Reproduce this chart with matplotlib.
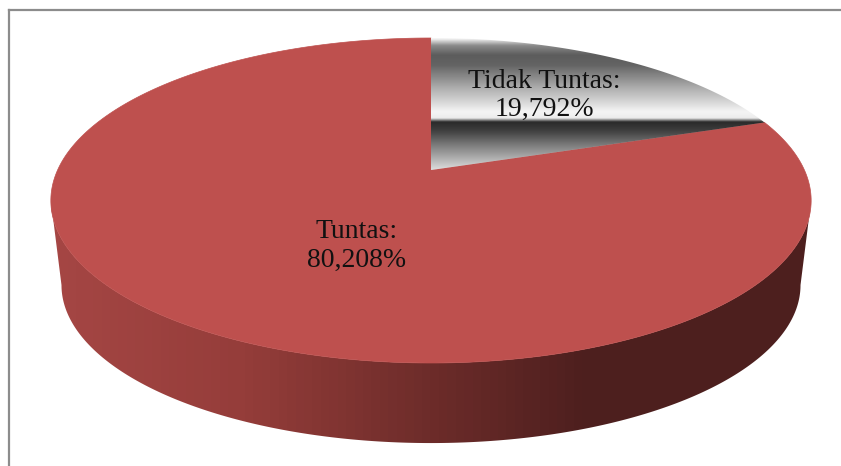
import matplotlib
matplotlib.use("Agg")
import matplotlib.pyplot as plt
from matplotlib.colors import LinearSegmentedColormap
from matplotlib.patches import Polygon
import numpy as np

labels = ["Tidak Tuntas", "Tuntas"]
values = [19.792, 80.208]
value_text = ["19,792%", "80,208%"]


# circle seen from above: the back is squeezed, the front is stretched
def project(theta, scale=1.0, dy=0.0):
    t = np.cos(theta)
    d = 1 + 0.1877 * t
    x = 431 + scale * 373.4 * np.sin(theta) / d
    y = 200.5 + scale * ((170 - 124.87 * t) / d - 200.5) + dy
    return x, y


def wedge(start, stop):
    th = np.radians(np.linspace(start, stop, 300))
    x, y = project(th)
    return np.column_stack([np.r_[431, x], np.r_[170, y]])


fig = plt.figure(figsize=(8.41, 4.66), dpi=100)
ax = fig.add_axes([0, 0, 1, 1])
ax.set_xlim(0, 841)
ax.set_ylim(466, 0)
ax.axis("off")

# frame around the chart
ax.plot([9.5, 9.5], [466, 10], color="#8c8c8c", lw=1.6)
ax.plot([9, 841], [10, 10], color="#8c8c8c", lw=1.6)

# rim of the pie, lit from the left; runs between the widest points of the disc
th = np.radians(np.linspace(100.8, 259.2, 400))
tx, ty = project(th)
bx, by = project(th[::-1], scale=0.972, dy=84.6)
side = Polygon(np.column_stack([np.r_[tx, bx], np.r_[ty, by]]), closed=True,
               fc="none", ec="none")
ax.add_patch(side)
rim = LinearSegmentedColormap.from_list("rim", [
    (0.0, "#a54644"), (0.25, "#953d3a"), (0.5, "#6d2c2a"),
    (0.71, "#4d1f1e"), (1.0, "#4d1f1e")])
im = ax.imshow(np.linspace(0, 1, 90)[None, :], cmap=rim, aspect="auto",
               extent=(51, 810, 466, 0), interpolation="nearest", zorder=1)
im.set_clip_path(side)
ax.set_xlim(0, 841)
ax.set_ylim(466, 0)

# slices, clockwise from twelve o'clock
angles = np.cumsum([0] + values) * 3.6
ax.add_patch(Polygon(wedge(angles[1], angles[2]), closed=True,
                     fc="#be504e", ec="#be504e", lw=0.5, zorder=2))

# metallic fill of the small slice, stops given by height on the page
stops = [(38, "#f4f4f4"), (45, "#8a8a8a"), (55, "#5c5c5c"), (65, "#646464"),
         (87, "#ababab"), (112, "#f5f5f5"), (118, "#ececec"), (122, "#2a2a2a"),
         (130, "#3c3c3c"), (145, "#7a7a7a"), (170, "#dcdcdc")]
metal = LinearSegmentedColormap.from_list(
    "metal", [((y - 38) / 132, c) for y, c in stops])
grey = Polygon(wedge(angles[0], angles[1]), closed=True, fc="none", ec="none",
               zorder=3)
ax.add_patch(grey)
im2 = ax.imshow(np.linspace(0, 1, 264)[:, None], cmap=metal, aspect="auto",
                extent=(431, 770, 170, 38), origin="upper", zorder=3,
                interpolation="bilinear")
im2.set_clip_path(grey)
ax.set_xlim(0, 841)
ax.set_ylim(466, 0)

font = ["Liberation Serif", "DejaVu Serif"]
ax.text(544, 95.5, f"{labels[0]}:\n{value_text[0]}", ha="center", va="center",
        fontsize=20, family=font, color="#111111", linespacing=1.2, zorder=5)
ax.text(357, 246, f"{labels[1]}:\n{value_text[1]}", ha="center", va="center",
        fontsize=20, family=font, color="#111111", linespacing=1.2, zorder=5)

fig.savefig("out.png", dpi=100)
